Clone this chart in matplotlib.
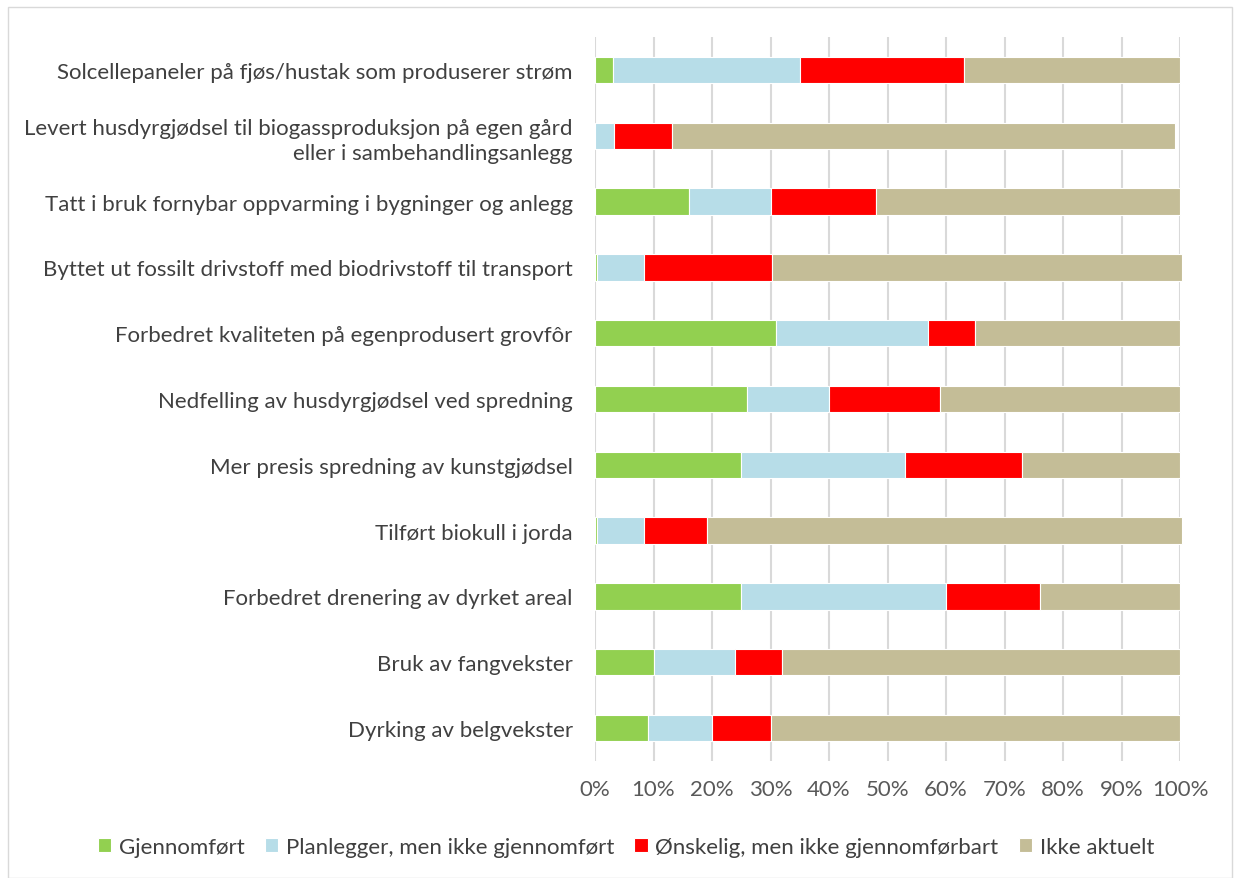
import matplotlib
matplotlib.use("Agg")
import matplotlib.pyplot as plt
from matplotlib.patches import Rectangle
from matplotlib.ticker import PercentFormatter

categories = [
    "Solcellepaneler på fjøs/hustak som produserer strøm",
    "Levert husdyrgjødsel til biogassproduksjon på egen gård\neller i sambehandlingsanlegg",
    "Tatt i bruk fornybar oppvarming i bygninger og anlegg",
    "Byttet ut fossilt drivstoff med biodrivstoff til transport",
    "Forbedret kvaliteten på egenprodusert grovfôr",
    "Nedfelling av husdyrgjødsel ved spredning",
    "Mer presis spredning av kunstgjødsel",
    "Tilført biokull i jorda",
    "Forbedret drenering av dyrket areal",
    "Bruk av fangvekster",
    "Dyrking av belgvekster",
]
gjennomfort = [3, 0, 16, 0.4, 31, 26, 25, 0.4, 25, 10, 9]
planlegger = [32, 3.2, 14, 7.9, 26, 14, 28, 7.9, 35, 14, 11]
onskelig = [28, 9.9, 18, 21.9, 8, 19, 20, 10.9, 16, 8, 10]
ikke_aktuelt = [37, 86, 52, 70.1, 35, 41, 27, 81.1, 24, 68, 70]

series_names = ["Gjennomført", "Planlegger, men ikke gjennomført",
                "Ønskelig, men ikke gjennomførbart", "Ikke aktuelt"]
colors = ["#92D050", "#B7DDE8", "#FF0000", "#C4BD97"]

plt.rcParams['font.family'] = ['Lato', 'DejaVu Sans']

fig = plt.figure(figsize=(12.34, 8.79), dpi=100)
ax = fig.add_axes([595/1234, 1 - 762/879, (1180-595)/1234, (762-38)/879])

y = list(range(len(categories)))
left = [0]*len(categories)
for vals, name, col in zip([gjennomfort, planlegger, onskelig, ikke_aktuelt], series_names, colors):
    v = [x/100 for x in vals]
    ax.barh(y, v, left=left, height=0.4, color=col, label=name,
            edgecolor="#FFFFFF", linewidth=0.8, zorder=3, clip_on=False)
    left = [a + b for a, b in zip(left, v)]

ax.set_ylim(len(categories) - 0.5, -0.5)
ax.set_xlim(0, 1.0)
ax.set_yticks(y)
ax.set_yticklabels(categories, fontsize=16, color="#404040", linespacing=1.3)
ax.set_xticks([i/10 for i in range(11)])
ax.xaxis.set_major_formatter(PercentFormatter(1.0, decimals=0))
ax.tick_params(axis='x', labelsize=16, labelcolor="#595959", length=0, pad=13)
ax.tick_params(axis='y', length=0, pad=16)
ax.grid(axis='x', color="#D9D9D9", linewidth=1.5, zorder=0)
for s in ax.spines.values():
    s.set_visible(False)

fig.legend(loc='center', bbox_to_anchor=(626/1234, 1 - 848/879), ncol=4, frameon=False,
           fontsize=16, labelcolor="#404040", handlelength=0.6, handleheight=0.6,
           handletextpad=0.35, columnspacing=0.9)

fig.patches.append(Rectangle((8/1234, 0), 1 - 8/1234 - 0.002, 1 - 8/879, transform=fig.transFigure,
                             fill=False, edgecolor="#D9D9D9", linewidth=1))

fig.savefig("out.png", dpi=100, facecolor="white")
